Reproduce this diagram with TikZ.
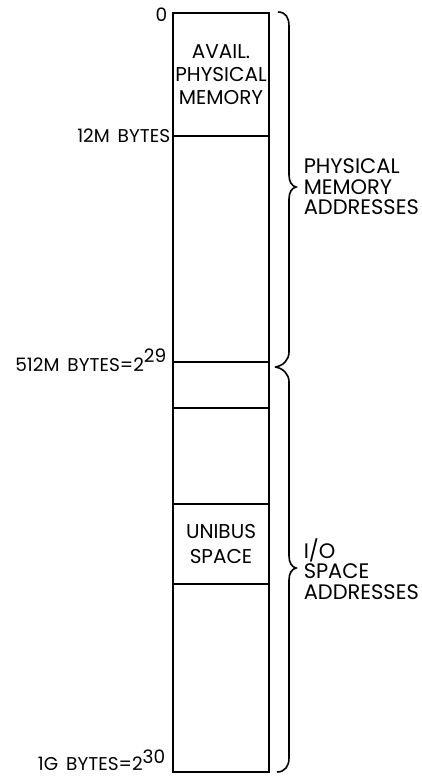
\documentclass[tikz,border=0pt]{standalone}
\usepackage{fontspec}
\setmainfont{Poppins}
\begin{document}
\begin{tikzpicture}[x=1pt,y=-1pt, line width=1.5pt,
 seg/.style={draw, rectangle, minimum width=96pt, inner sep=0pt, anchor=north, align=center, font=\fontsize{20}{23}\selectfont},
 rlabel/.style={anchor=west, align=left, inner sep=0pt, font=\fontsize{21}{20.5}\selectfont},
 llabel/.style={inner sep=0pt, font=\fontsize{18.5}{18}\selectfont},
 bracestyle/.style={draw, line width=1.6pt}]
\useasboundingbox (0,0) rectangle (421,777);
% memory column
\node[seg, minimum height=123pt] (s1) at (221,12) {AVAIL.\\PHYSICAL\\MEMORY};
\node[seg, minimum height=226pt] (s2) at (221,135) {};
\node[seg, minimum height=46pt]  (s3) at (221,361) {};
\node[seg, minimum height=96pt]  (s4) at (221,407) {};
\node[seg, minimum height=80pt]  (s5) at (221,503) {UNIBUS\\[2pt]SPACE};
\node[seg, minimum height=188pt] (s6) at (221,583) {};
% braces
\coordinate (btop) at (278,12);
\coordinate (bmid) at (275,367);
\coordinate (bbot) at (277,772);
\draw[bracestyle] (btop) .. controls (286,12) and (289,18) .. (289,26) -- (289,175)
  .. controls (289,182) and (292,186) .. (296,187)
  .. controls (292,188) and (289,192) .. (289,199) -- (289,352)
  .. controls (289,360) and (283,366) .. (bmid);
\draw[bracestyle] (bmid) .. controls (283,368) and (289,374) .. (289,382) -- (289,556)
  .. controls (289,563) and (292,567) .. (296,568)
  .. controls (292,569) and (289,573) .. (289,580) -- (289,758)
  .. controls (289,766) and (285,772) .. (bbot);
% left labels
\node[llabel, anchor=east] (l0) at (168,15) {0};
\node[llabel, anchor=east] (l12) at (171,136) {12M\hspace{8pt}BYTES};
\node[llabel, anchor=base east] (l512) at (167,371) {512M\hspace{8pt}BYTES=2\raisebox{9pt}{29}};
\node[llabel, anchor=base east] (l1g) at (166,770) {1G\hspace{8pt}BYTES=2\raisebox{7pt}{30}};
% right labels
\node[rlabel] (pm) at (303,187) {PHYSICAL\\MEMORY\\ADDRESSES};
\node[rlabel] (io) at (303,569) {I/O\\SPACE\\ADDRESSES};
\end{tikzpicture}
\end{document}
